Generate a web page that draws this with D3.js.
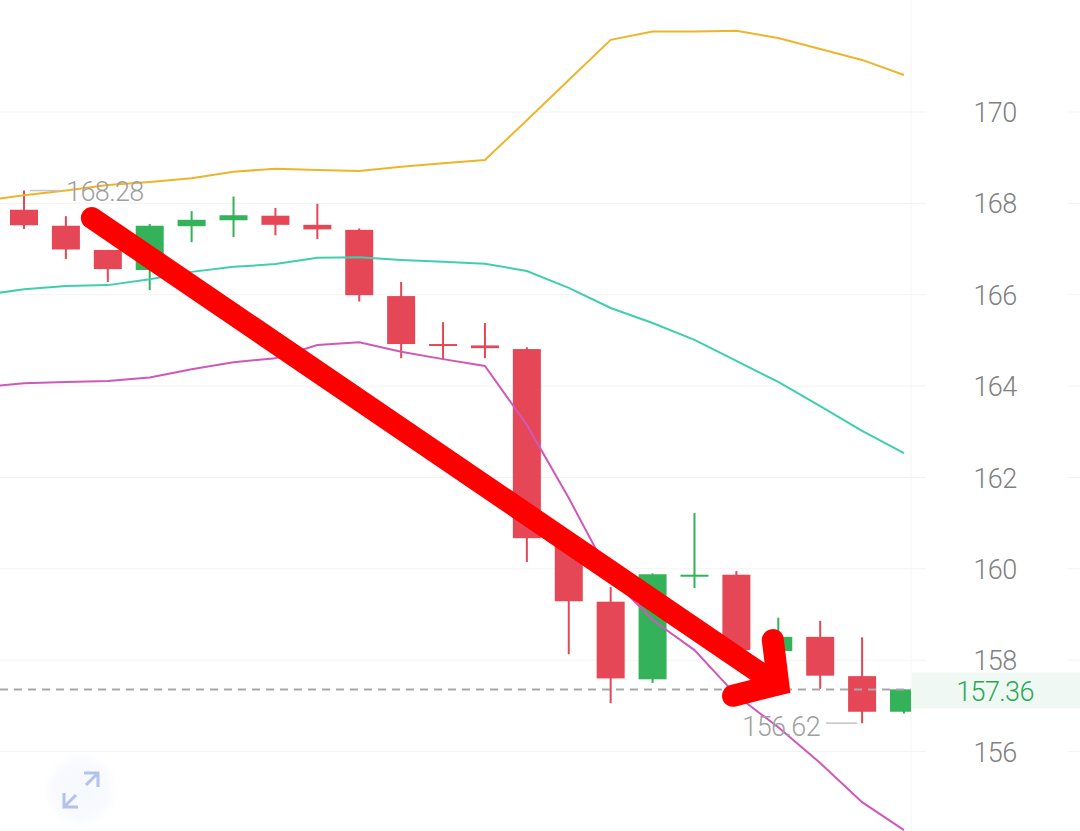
<!DOCTYPE html>
<html>
<head>
<script src="https://cdn.jsdelivr.net/npm/d3@7"></script>
<style>
    body { margin: 0; background: #fff; }
    svg { display: block; font-family: Roboto, sans-serif; font-weight: 300; letter-spacing: -0.6px; }
</style>
</head>
<body>
<div id="chart"></div>
<script>
// candles, red = down, green = up
var opens  = [167.86,167.51,166.98,166.54,167.50,167.63,167.73,167.53,167.42,165.97,164.92,164.89,164.81,160.65,159.28,157.58,159.84,159.87,158.20,158.51,157.65,156.87];
var closes = [167.52,166.99,166.56,167.51,167.64,167.74,167.53,167.43,165.99,164.92,164.88,164.83,160.67,159.29,157.60,159.88,159.87,158.22,158.51,157.66,156.87,157.36];
var highs  = [168.28,167.72,166.98,167.55,167.83,168.15,167.90,167.99,167.45,166.28,165.40,165.38,164.85,160.67,159.60,159.90,161.22,159.95,158.93,158.86,158.50,157.36];
var lows   = [167.44,166.78,166.28,166.10,167.15,167.26,167.30,167.22,165.85,164.61,164.59,164.61,160.15,158.13,157.06,157.50,159.58,158.20,158.20,157.37,156.62,156.83];

// band lines, first value is the candle just off the left edge
var upperBand = [168.05,168.18,168.28,168.40,168.47,168.55,168.69,168.76,168.73,168.71,168.80,168.88,168.95,169.82,170.70,171.58,171.76,171.76,171.78,171.62,171.38,171.14,170.81];
var midBand   = [165.99,166.12,166.19,166.21,166.34,166.50,166.61,166.67,166.81,166.82,166.76,166.72,166.68,166.52,166.15,165.71,165.38,165.01,164.55,164.09,163.56,163.02,162.53];
var lowerBand = [163.98,164.06,164.09,164.11,164.19,164.37,164.52,164.61,164.90,164.96,164.75,164.59,164.44,163.15,161.55,159.82,158.88,158.22,157.23,156.53,155.75,154.89,154.28];

var priceTicks = [156,158,160,162,164,166,168,170];
var lastPrice = 157.36;
var maxPrice = 168.28, maxIndex = 0;
var minPrice = 156.62, minIndex = 20;

// hand drawn arrow, [candle index, price]
var arrowShaft = [[1.62,167.68],[17.96,157.47]];
var arrowHead  = [[17.87,158.44],[18.0,157.47],[16.92,157.22]];

var width = 1080, height = 831, plotRight = 911;
var green = "#34b25a", red = "#e54756";

var x = d3.scaleLinear().domain([0, 21]).range([24, 904]);
var y = d3.scaleLinear().domain([156, 170]).range([751.5, 112]);

var svg = d3.select("#chart").append("svg")
    .attr("width", width)
    .attr("height", height);

var defs = svg.append("defs");
defs.append("clipPath").attr("id", "plot").append("rect")
    .attr("width", plotRight).attr("height", height);
var glow = defs.append("radialGradient").attr("id", "glow");
glow.append("stop").attr("offset", "0%").attr("stop-color", "#f5f8fe");
glow.append("stop").attr("offset", "70%").attr("stop-color", "#f8fafe");
glow.append("stop").attr("offset", "100%").attr("stop-color", "#ffffff");

// grid, with the short stub at the far right
svg.append("g").selectAll("line").data(priceTicks).enter().append("line")
    .attr("x1", 0).attr("x2", 926)
    .attr("y1", function (d) { return y(d); })
    .attr("y2", function (d) { return y(d); })
    .attr("stroke", "#f3f3f3");
svg.append("g").selectAll("line").data(priceTicks).enter().append("line")
    .attr("x1", 1068).attr("x2", width)
    .attr("y1", function (d) { return y(d); })
    .attr("y2", function (d) { return y(d); })
    .attr("stroke", "#f3f3f3");
svg.append("line")
    .attr("x1", plotRight).attr("x2", plotRight)
    .attr("y1", 0).attr("y2", height)
    .attr("stroke", "#f5f5f5");

// last price band behind the axis
svg.append("rect")
    .attr("x", plotRight + 1).attr("width", width - plotRight - 1)
    .attr("y", y(lastPrice) - 17).attr("height", 36)
    .attr("fill", "#eff8f2");

// axis
var axis = svg.append("g")
    .attr("transform", "translate(995,1)")
    .call(d3.axisRight(y).tickValues(priceTicks).tickSize(0).tickPadding(0));
axis.select(".domain").remove();
axis.selectAll("text")
    .attr("text-anchor", "middle")
    .attr("font-family", "Roboto, sans-serif")
    .attr("font-size", 27)
    .attr("fill", "#808080");

var plot = svg.append("g").attr("clip-path", "url(#plot)");

// candles
var candles = plot.selectAll("g.candle").data(opens).enter().append("g").attr("class", "candle");
function candleColor(d, i) { return closes[i] >= d ? green : red; }
candles.append("line")
    .attr("x1", function (d, i) { return x(i); })
    .attr("x2", function (d, i) { return x(i); })
    .attr("y1", function (d, i) { return y(highs[i]); })
    .attr("y2", function (d, i) { return y(lows[i]); })
    .attr("stroke", candleColor)
    .attr("stroke-width", 2);
candles.append("rect")
    .attr("x", function (d, i) { return x(i) - 14; })
    .attr("width", 28)
    .attr("y", function (d, i) { return y(Math.max(d, closes[i])); })
    .attr("height", function (d, i) { return Math.max(2, Math.abs(y(d) - y(closes[i]))); })
    .attr("fill", candleColor);

// bands
var bandLine = d3.line()
    .x(function (d, i) { return x(i - 1); })
    .y(function (d) { return y(d); });
[[upperBand, "#eeb42a"], [midBand, "#3fcfae"], [lowerBand, "#cf58b8"]].forEach(function (b) {
    plot.append("path")
        .attr("d", bandLine(b[0]))
        .attr("fill", "none")
        .attr("stroke", b[1])
        .attr("stroke-width", 2);
});

// last price dashed line
svg.append("line")
    .attr("x1", 0).attr("x2", plotRight)
    .attr("y1", y(lastPrice)).attr("y2", y(lastPrice))
    .attr("stroke", "#a8a8a8")
    .attr("stroke-width", 2)
    .attr("stroke-dasharray", "8 6");

svg.append("text")
    .attr("x", 995).attr("y", y(lastPrice) + 12)
    .attr("text-anchor", "middle")
    .attr("font-size", 27)
    .attr("fill", "#2aa858")
    .text(lastPrice.toFixed(2));

// max / min labels
svg.append("line")
    .attr("x1", x(maxIndex) + 6).attr("x2", x(maxIndex) + 37)
    .attr("y1", y(maxPrice)).attr("y2", y(maxPrice))
    .attr("stroke", "#c4c4c4").attr("stroke-width", 1.5);
svg.append("text")
    .attr("x", x(maxIndex) + 42).attr("y", y(maxPrice) + 10)
    .attr("font-size", 27).attr("fill", "#a0a0a0")
    .text(maxPrice.toFixed(2));
svg.append("line")
    .attr("x1", x(minIndex) - 36).attr("x2", x(minIndex) - 5)
    .attr("y1", y(minPrice)).attr("y2", y(minPrice))
    .attr("stroke", "#c4c4c4").attr("stroke-width", 1.5);
svg.append("text")
    .attr("x", x(minIndex) - 42).attr("y", y(minPrice) + 13)
    .attr("text-anchor", "end")
    .attr("font-size", 27).attr("fill", "#a0a0a0")
    .text(minPrice.toFixed(2));

// expand button
var btn = svg.append("g").attr("transform", "translate(81,790)");
btn.append("circle").attr("r", 38).attr("fill", "url(#glow)");
btn.append("path")
    .attr("d", "M3,-17H17V-3M17,-17L5,-5M-17,3V17H-3M-17,17L-5,5")
    .attr("fill", "none")
    .attr("stroke", "#b2c2ec")
    .attr("stroke-width", 3);

// red arrow on top of everything
var arrowLine = d3.line()
    .x(function (d) { return x(d[0]); })
    .y(function (d) { return y(d[1]); });
[arrowShaft, arrowHead].forEach(function (pts) {
    svg.append("path")
        .attr("d", arrowLine(pts))
        .attr("fill", "none")
        .attr("stroke", "#fe0000")
        .attr("stroke-width", 22)
        .attr("stroke-linecap", "round")
        .attr("stroke-linejoin", "miter");
});
</script>
</body>
</html>
